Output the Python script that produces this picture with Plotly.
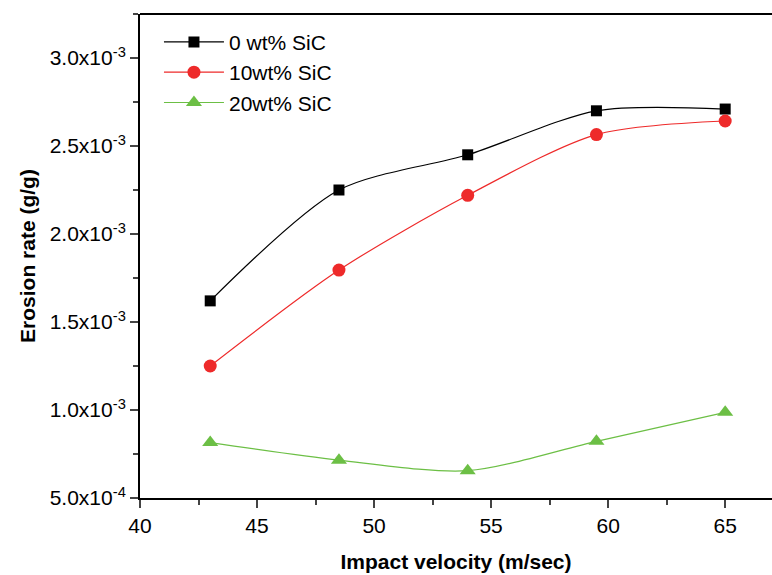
import plotly.graph_objects as go

velocity = [43, 48.5, 54, 59.5, 65]
sic0 = [1.62e-3, 2.25e-3, 2.45e-3, 2.70e-3, 2.71e-3]
sic10 = [1.25e-3, 1.795e-3, 2.22e-3, 2.565e-3, 2.642e-3]
sic20 = [8.15e-4, 7.15e-4, 6.55e-4, 8.22e-4, 9.87e-4]
names = ["0 wt% SiC", "10wt% SiC", "20wt% SiC"]

ytick_vals = [5e-4, 1e-3, 1.5e-3, 2e-3, 2.5e-3, 3e-3]
ytick_text = ["5.0x10<sup>-4</sup>", "1.0x10<sup>-3</sup>", "1.5x10<sup>-3</sup>",
              "2.0x10<sup>-3</sup>", "2.5x10<sup>-3</sup>", "3.0x10<sup>-3</sup>"]
xtick_vals = [40, 45, 50, 55, 60, 65]

fig = go.Figure()
styles = [("black", "square", 11), ("#ee2a2a", "circle", 13), ("#6cbf45", "triangle-up", 14)]
for name, ys, (col, sym, sz) in zip(names, [sic0, sic10, sic20], styles):
    fig.add_trace(go.Scatter(
        x=velocity, y=ys, name=name, mode="lines+markers",
        line=dict(color=col, width=1.2, shape="spline", smoothing=0.8),
        marker=dict(color=col, symbol=sym, size=sz),
    ))

fig.update_layout(
    width=772, height=575,
    margin=dict(l=140, r=0, t=14, b=77),
    paper_bgcolor="white", plot_bgcolor="white",
    font=dict(family="Liberation Sans, Arial, sans-serif", size=21, color="black"),
    showlegend=True,
    legend=dict(x=0.03, y=0.984, xanchor="left", yanchor="top",
                bgcolor="rgba(0,0,0,0)", font=dict(size=21), tracegroupgap=0,
                itemwidth=60),
    shapes=[dict(type="line", xref="paper", yref="paper", x0=0, x1=1, y0=1, y1=1,
                 line=dict(color="black", width=2))],
)
fig.update_xaxes(
    range=[40, 67], tickvals=xtick_vals, ticks="outside", ticklen=8, tickwidth=1.5,
    showline=True, linecolor="black", linewidth=2, showgrid=False, zeroline=False,
    minor=dict(ticks="outside", ticklen=5, dtick=2.5, tick0=40, tickwidth=1.5, showgrid=False),
    title=dict(text="<b>Impact velocity (m/sec)</b>", font=dict(size=21), standoff=18),
    tickfont=dict(size=21),
)
fig.update_yaxes(
    range=[5e-4, 3.25e-3], tickvals=ytick_vals, ticktext=ytick_text,
    ticks="outside", ticklen=8, tickwidth=1.5,
    showline=True, linecolor="black", linewidth=2, showgrid=False, zeroline=False,
    minor=dict(ticks="outside", ticklen=5, dtick=2.5e-4, tick0=5e-4, tickwidth=1.5, showgrid=False),
    title=dict(text="<b>Erosion rate (g/g)</b>", font=dict(size=21), standoff=8),
    tickfont=dict(size=21),
)

fig.write_html("out.html")
